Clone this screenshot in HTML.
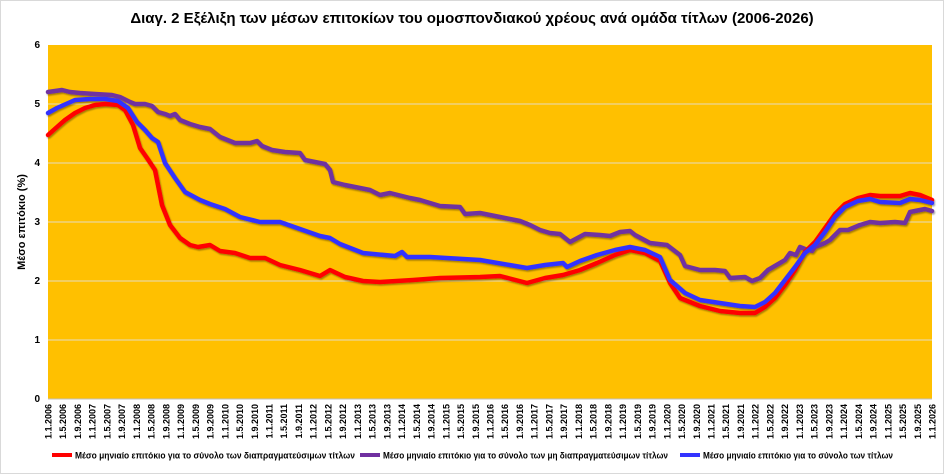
<!DOCTYPE html>
<html><head><meta charset="utf-8"><style>
html,body{margin:0;padding:0;background:#fff}
svg{display:block;font-family:"Liberation Sans",sans-serif}
</style></head><body>
<svg width="944" height="474" viewBox="0 0 944 474" xmlns="http://www.w3.org/2000/svg">
<defs><filter id="sh" x="-5%" y="-5%" width="110%" height="110%"><feDropShadow dx="1" dy="1.5" stdDeviation="0.8" flood-color="#000" flood-opacity="0.35"/></filter></defs>
<rect x="0.5" y="0.5" width="943" height="473" fill="#fff" stroke="#d9d9d9"/>
<text x="472" y="23" text-anchor="middle" font-size="15" font-weight="bold" fill="#000">Διαγ. 2 Εξέλιξη των μέσων επιτοκίων του ομοσπονδιακού χρέους ανά ομάδα τίτλων (2006-2026)</text>
<rect x="48" y="45" width="884" height="354" fill="#FFC000"/>
<g stroke="#e6dcc0" stroke-width="1">
<line x1="48" x2="932" y1="104" y2="104"/><line x1="48" x2="932" y1="163" y2="163"/><line x1="48" x2="932" y1="222" y2="222"/><line x1="48" x2="932" y1="281" y2="281"/><line x1="48" x2="932" y1="340" y2="340"/>
</g>
<line x1="48" x2="932" y1="399" y2="399" stroke="#bfbfbf"/>
<g font-size="10" font-weight="bold" text-anchor="end" fill="#000">
<text x="40" y="48">6</text><text x="40" y="107">5</text><text x="40" y="166">4</text><text x="40" y="225">3</text><text x="40" y="284">2</text><text x="40" y="343">1</text><text x="40" y="402">0</text>
</g>
<text transform="translate(25,222) rotate(-90)" text-anchor="middle" font-size="11" font-weight="bold">Μέσο επιτόκιο (%)</text>
<g font-size="9" font-weight="bold" text-anchor="end">
<text transform="translate(51.5,404) rotate(-90)">1.1.2006</text>
<text transform="translate(66.2,404) rotate(-90)">1.5.2006</text>
<text transform="translate(81.0,404) rotate(-90)">1.9.2006</text>
<text transform="translate(95.7,404) rotate(-90)">1.1.2007</text>
<text transform="translate(110.4,404) rotate(-90)">1.5.2007</text>
<text transform="translate(125.2,404) rotate(-90)">1.9.2007</text>
<text transform="translate(139.9,404) rotate(-90)">1.1.2008</text>
<text transform="translate(154.6,404) rotate(-90)">1.5.2008</text>
<text transform="translate(169.4,404) rotate(-90)">1.9.2008</text>
<text transform="translate(184.1,404) rotate(-90)">1.1.2009</text>
<text transform="translate(198.8,404) rotate(-90)">1.5.2009</text>
<text transform="translate(213.6,404) rotate(-90)">1.9.2009</text>
<text transform="translate(228.3,404) rotate(-90)">1.1.2010</text>
<text transform="translate(243.0,404) rotate(-90)">1.5.2010</text>
<text transform="translate(257.8,404) rotate(-90)">1.9.2010</text>
<text transform="translate(272.5,404) rotate(-90)">1.1.2011</text>
<text transform="translate(287.2,404) rotate(-90)">1.5.2011</text>
<text transform="translate(302.0,404) rotate(-90)">1.9.2011</text>
<text transform="translate(316.7,404) rotate(-90)">1.1.2012</text>
<text transform="translate(331.4,404) rotate(-90)">1.5.2012</text>
<text transform="translate(346.2,404) rotate(-90)">1.9.2012</text>
<text transform="translate(360.9,404) rotate(-90)">1.1.2013</text>
<text transform="translate(375.6,404) rotate(-90)">1.5.2013</text>
<text transform="translate(390.4,404) rotate(-90)">1.9.2013</text>
<text transform="translate(405.1,404) rotate(-90)">1.1.2014</text>
<text transform="translate(419.8,404) rotate(-90)">1.5.2014</text>
<text transform="translate(434.6,404) rotate(-90)">1.9.2014</text>
<text transform="translate(449.3,404) rotate(-90)">1.1.2015</text>
<text transform="translate(464.0,404) rotate(-90)">1.5.2015</text>
<text transform="translate(478.8,404) rotate(-90)">1.9.2015</text>
<text transform="translate(493.5,404) rotate(-90)">1.1.2016</text>
<text transform="translate(508.2,404) rotate(-90)">1.5.2016</text>
<text transform="translate(523.0,404) rotate(-90)">1.9.2016</text>
<text transform="translate(537.7,404) rotate(-90)">1.1.2017</text>
<text transform="translate(552.4,404) rotate(-90)">1.5.2017</text>
<text transform="translate(567.2,404) rotate(-90)">1.9.2017</text>
<text transform="translate(581.9,404) rotate(-90)">1.1.2018</text>
<text transform="translate(596.6,404) rotate(-90)">1.5.2018</text>
<text transform="translate(611.4,404) rotate(-90)">1.9.2018</text>
<text transform="translate(626.1,404) rotate(-90)">1.1.2019</text>
<text transform="translate(640.8,404) rotate(-90)">1.5.2019</text>
<text transform="translate(655.6,404) rotate(-90)">1.9.2019</text>
<text transform="translate(670.3,404) rotate(-90)">1.1.2020</text>
<text transform="translate(685.0,404) rotate(-90)">1.5.2020</text>
<text transform="translate(699.8,404) rotate(-90)">1.9.2020</text>
<text transform="translate(714.5,404) rotate(-90)">1.1.2021</text>
<text transform="translate(729.2,404) rotate(-90)">1.5.2021</text>
<text transform="translate(744.0,404) rotate(-90)">1.9.2021</text>
<text transform="translate(758.7,404) rotate(-90)">1.1.2022</text>
<text transform="translate(773.4,404) rotate(-90)">1.5.2022</text>
<text transform="translate(788.2,404) rotate(-90)">1.9.2022</text>
<text transform="translate(802.9,404) rotate(-90)">1.1.2023</text>
<text transform="translate(817.6,404) rotate(-90)">1.5.2023</text>
<text transform="translate(832.4,404) rotate(-90)">1.9.2023</text>
<text transform="translate(847.1,404) rotate(-90)">1.1.2024</text>
<text transform="translate(861.8,404) rotate(-90)">1.5.2024</text>
<text transform="translate(876.6,404) rotate(-90)">1.9.2024</text>
<text transform="translate(891.3,404) rotate(-90)">1.1.2025</text>
<text transform="translate(906.0,404) rotate(-90)">1.5.2025</text>
<text transform="translate(920.8,404) rotate(-90)">1.9.2025</text>
<text transform="translate(935.5,404) rotate(-90)">1.1.2026</text>
</g>
<g fill="none" stroke-width="4.5" stroke-linejoin="round" stroke-linecap="round" filter="url(#sh)">
<polyline stroke="#7030A0" points="48,92 55,91 62,90 70,92 80,93 95,94 112,95 120,97 130,102 135,104 145,104 152,106 158,112 165,114 170,116 175,114 180,120 190,124 200,127 210,129 220,137 235,143 250,143 257,141 262,146 272,150 285,152 300,153 305,160 325,164 330,170 333,182 345,185 370,190 380,195 390,193 410,198 420,200 440,206 460,207 465,214 480,213 500,217 520,221 530,225 540,230 550,233 560,234 570,242 585,234 600,235 610,236 620,232 630,231 635,235 650,243 667,245 680,255 685,266 700,270 715,270 725,271 730,278 745,277 752,281 760,278 768,270 780,263 785,260 790,253 796,255 800,247 805,249 812,251 815,247 825,243 830,240 840,230 848,230 860,225 870,222 880,223 895,222 905,223 910,212 920,210 925,209 932,211"/>
<polyline stroke="#FF0000" points="48,135 57,127 65,120 75,113 85,108 95,105 105,104 118,105 125,110 133,125 140,148 147,158 155,170 162,205 170,225 180,238 190,245 198,247 210,245 220,251 235,253 250,258 265,258 280,265 300,270 320,276 330,270 345,277 363,281 380,282 413,280 440,278 480,277 500,276 527,283 545,278 563,275 580,270 597,263 615,255 630,250 645,253 660,261 670,283 680,298 700,306 720,311 740,313 755,313 765,307 775,298 785,285 795,270 805,252 815,242 825,228 835,214 845,204 858,198 870,195 880,196 900,196 910,193 920,195 932,200"/>
<polyline stroke="#3333FF" points="48,113 57,108 66,104 75,100 90,99 105,99 118,101 128,108 137,122 145,130 152,138 158,142 165,163 175,178 185,192 200,200 210,204 225,209 240,217 260,222 280,222 300,229 320,236 330,238 340,244 363,253 395,256 402,252 407,257 430,257 480,260 527,268 545,265 563,263 567,267 580,261 597,255 615,250 630,247 645,250 660,257 670,280 685,293 700,300 720,303 740,306 755,307 765,302 775,293 785,280 795,267 805,253 815,245 825,232 835,217 845,207 858,201 870,199 880,202 900,203 910,199 920,200 932,203"/>
</g>
<g font-size="9.5" font-weight="bold">
<line x1="52" x2="72" y1="455" y2="455" stroke="#FF0000" stroke-width="4"/>
<text x="75" y="458.5" textLength="280" lengthAdjust="spacingAndGlyphs">Μέσο μηνιαίο επιτόκιο για το σύνολο των  διαπραγματεύσιμων τίτλων</text>
<line x1="360" x2="380" y1="455" y2="455" stroke="#7030A0" stroke-width="4"/>
<text x="383" y="458.5" textLength="285" lengthAdjust="spacingAndGlyphs">Μέσο μηνιαίο επιτόκιο για το σύνολο των μη διαπραγματεύσιμων τίτλων</text>
<line x1="680" x2="700" y1="455" y2="455" stroke="#3333FF" stroke-width="4"/>
<text x="703" y="458.5" textLength="190" lengthAdjust="spacingAndGlyphs">Μέσο μηνιαίο επιτόκιο για το σύνολο των τίτλων</text>
</g>
</svg>
</body></html>
